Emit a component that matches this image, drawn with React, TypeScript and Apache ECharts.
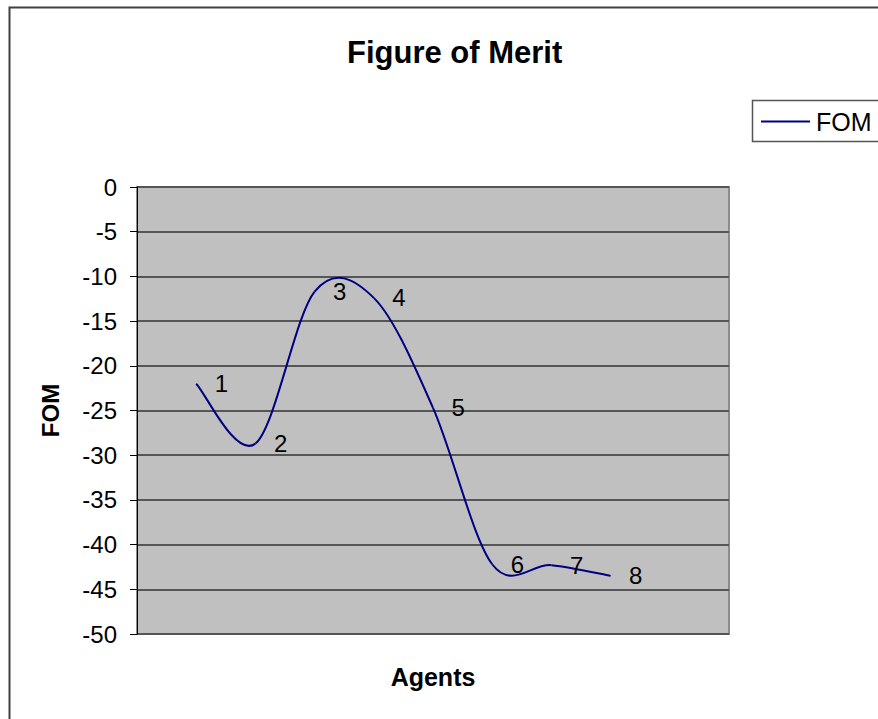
import React, { useEffect, useRef } from "react";
import * as echarts from "echarts";

// ---- data ----
const agents = [1, 2, 3, 4, 5, 6, 7, 8];
const fomValues = [-22.0, -28.7, -11.7, -12.4, -24.7, -42.2, -42.3, -43.5];
const yMin = -50;
const yMax = 0;
const yStep = 5;
const xMin = 0;
const xMax = 10;

const FONT = "'Liberation Sans', Arial, sans-serif";
const LINE_COLOR = "#000080";

export default function App() {
  const ref = useRef<HTMLDivElement>(null);

  useEffect(() => {
    if (!ref.current) return;
    const chart = echarts.init(ref.current, undefined, { renderer: "svg" });
    const n = agents.length;
    const clampIdx = (k: number) => Math.max(0, Math.min(n - 1, k));

    const option: any = {
      animation: false,
      backgroundColor: "#ffffff",
      textStyle: { fontFamily: FONT },
      title: {
        text: "Figure of Merit",
        left: 342,
        top: 32,
        textStyle: { fontFamily: FONT, fontSize: 31, fontWeight: "bold", color: "#000" },
      },
      legend: {
        data: [{ name: "FOM", icon: "rect", itemStyle: { color: LINE_COLOR } }],
        left: 761,
        top: 109,
        padding: 0,
        itemWidth: 49,
        itemHeight: 2,
        textStyle: { fontFamily: FONT, fontSize: 25, color: "#000", padding: [0, 0, 0, 1] },
      },
      graphic: [
        {
          type: "rect",
          shape: { x: 9.5, y: 7.5, width: 1000, height: 1000 },
          style: { fill: "none", stroke: "#404040", lineWidth: 2 },
          silent: true,
        },
        {
          type: "rect",
          shape: { x: 752.5, y: 100.5, width: 200, height: 41 },
          style: { fill: "none", stroke: "#555555", lineWidth: 1.5 },
          silent: true,
        },
      ],
      grid: {
        left: 137,
        right: 149,
        top: 187,
        bottom: 85,
        show: true,
        backgroundColor: "#c0c0c0",
        borderColor: "#8c8c8c",
        borderWidth: 2,
      },
      xAxis: {
        type: "value",
        min: xMin,
        max: xMax,
        name: "Agents",
        nameLocation: "middle",
        nameGap: 30,
        nameTextStyle: { fontFamily: FONT, fontSize: 25, fontWeight: "bold", color: "#000" },
        axisLine: { show: false },
        axisTick: { show: false },
        axisLabel: { show: false },
        splitLine: { show: false },
      },
      yAxis: {
        type: "value",
        min: yMin,
        max: yMax,
        interval: yStep,
        name: "FOM",
        nameLocation: "middle",
        nameGap: 75,
        nameTextStyle: { fontFamily: FONT, fontSize: 24, fontWeight: "bold", color: "#000" },
        axisLine: { show: true, onZero: false, lineStyle: { color: "#000", width: 1 } },
        axisTick: { show: true, length: 7, lineStyle: { color: "#000", width: 1 } },
        axisLabel: { fontFamily: FONT, fontSize: 24, color: "#000", margin: 20 },
        splitLine: { show: true, lineStyle: { color: "#555555", width: 2 } },
      },
      series: [
        {
          type: "custom",
          name: "FOM",
          coordinateSystem: "cartesian2d",
          itemStyle: { color: LINE_COLOR },
          data: agents.map((a, i) => [a, fomValues[i]]),
          renderItem: (params: any, api: any) => {
            const i = params.dataIndex;
            if (i >= n - 1) return { type: "group", children: [] };
            const pt = (k: number) => {
              const c = clampIdx(k);
              return api.coord([agents[c], fomValues[c]]);
            };
            const p0 = pt(i - 1);
            const p1 = pt(i);
            const p2 = pt(i + 1);
            const p3 = pt(i + 2);
            return {
              type: "bezierCurve",
              shape: {
                x1: p1[0],
                y1: p1[1],
                x2: p2[0],
                y2: p2[1],
                cpx1: p1[0] + (p2[0] - p0[0]) / 6,
                cpy1: p1[1] + (p2[1] - p0[1]) / 6,
                cpx2: p2[0] - (p3[0] - p1[0]) / 6,
                cpy2: p2[1] - (p3[1] - p1[1]) / 6,
              },
              style: { stroke: LINE_COLOR, lineWidth: 2, fill: "none" },
            };
          },
        },
        {
          type: "scatter",
          name: "labels",
          silent: true,
          symbolSize: 1,
          itemStyle: { color: "rgba(0,0,0,0)" },
          data: agents.map((a, i) => [a, fomValues[i]]),
          label: {
            show: true,
            position: "right",
            distance: 18,
            formatter: (p: any) => String(p.value[0]),
            fontFamily: FONT,
            fontSize: 24,
            color: "#000000",
            opacity: 1,
            textBorderWidth: 0,
          },
        },
      ],
    };

    chart.setOption(option);
    return () => chart.dispose();
  }, []);

  return (
    <div
      ref={ref}
      style={{ position: "absolute", left: 0, top: 0, width: 878, height: 719 }}
    />
  );
}
